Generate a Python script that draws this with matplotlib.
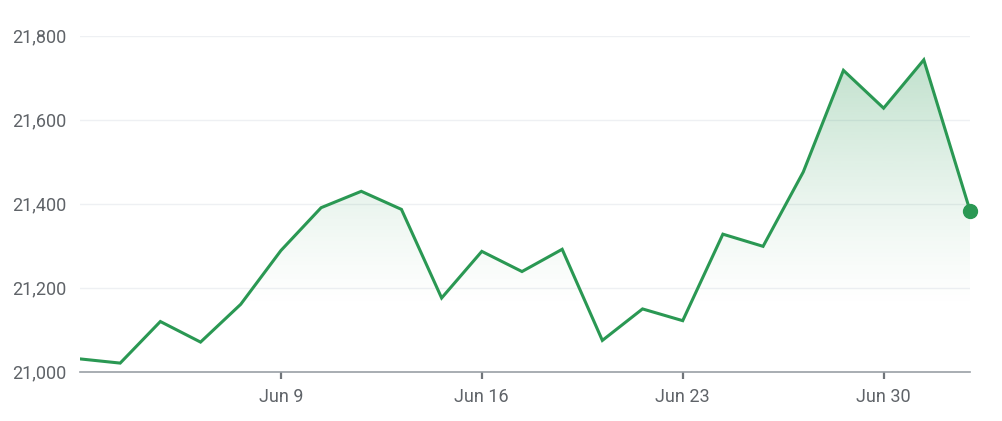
import numpy as np
import matplotlib
matplotlib.use("Agg")
import matplotlib.pyplot as plt
from matplotlib.patches import Polygon

# trading sessions, Jun 2 .. Jul 1, plus the latest quote
dates = ["Jun 2", "Jun 3", "Jun 4", "Jun 5", "Jun 6",
         "Jun 9", "Jun 10", "Jun 11", "Jun 12", "Jun 13",
         "Jun 16", "Jun 17", "Jun 18", "Jun 19", "Jun 20",
         "Jun 23", "Jun 24", "Jun 25", "Jun 26", "Jun 27",
         "Jun 30", "Jul 1", "Jul 2"]
prices = [21030, 21020, 21119, 21070, 21160,
          21288, 21390, 21429, 21386, 21175,
          21286, 21238, 21291, 21074, 21149,
          21121, 21327, 21298, 21475, 21717,
          21627, 21742, 21383]
tick_labels = ["Jun 9", "Jun 16", "Jun 23", "Jun 30"]
y_ticks = [21000, 21200, 21400, 21600, 21800]

plt.rcParams['font.family'] = ['Roboto', 'DejaVu Sans']

green = '#2a9853'
x = np.arange(len(prices), dtype=float)
x[-1] += 0.15  # last quote is intraday, a little past the session slot

fig = plt.figure(figsize=(10.02, 4.21), dpi=100)
ax = fig.add_axes([80/1002, 1-371.5/421, 890/1002, 336/421])
ax.set_xlim(0, x[-1])
ax.set_ylim(21000, 21800)

# gradient fill under the line
grad = np.linspace(0, 1, 256)
img = np.zeros((256, 1, 4))
img[..., 0] = 0x2a/255
img[..., 1] = 0x98/255
img[..., 2] = 0x53/255
img[:, 0, 3] = np.clip((grad - 0.18) / 0.82, 0, 1) ** 1.3 * 0.33
im = ax.imshow(img, extent=[0, x[-1], 21000, 21800], origin='lower',
               aspect='auto', zorder=1)
poly = Polygon(np.column_stack([np.r_[x[0], x, x[-1]],
                                np.r_[21000, prices, 21000]]),
               closed=True, facecolor='none', edgecolor='none')
ax.add_patch(poly)
im.set_clip_path(poly)

ax.plot(x, prices, color=green, lw=2.2, zorder=3, solid_joinstyle='miter')
ax.plot(x[-1], prices[-1], 'o', color=green, ms=10, zorder=4, clip_on=False)

ax.set_yticks(y_ticks)
ax.set_yticklabels([f"{v:,}" for v in y_ticks])
pos = [dates.index(d) for d in tick_labels]
ax.set_xticks(pos)
ax.set_xticklabels(tick_labels)

ax.grid(axis='y', color='#eef0f3', lw=1)
ax.set_axisbelow(True)
for s in ['top', 'right', 'left']:
    ax.spines[s].set_visible(False)
ax.spines['bottom'].set_color('#9aa0a6')
ax.spines['bottom'].set_linewidth(1.2)
ax.spines['bottom'].set_zorder(5)
ax.tick_params(axis='y', length=0, pad=10, labelsize=13, labelcolor='#5f6368')
ax.tick_params(axis='x', length=5, width=1.6, color='#70757a', pad=7,
               labelsize=13, labelcolor='#5f6368')

fig.savefig('out.png', dpi=100)
